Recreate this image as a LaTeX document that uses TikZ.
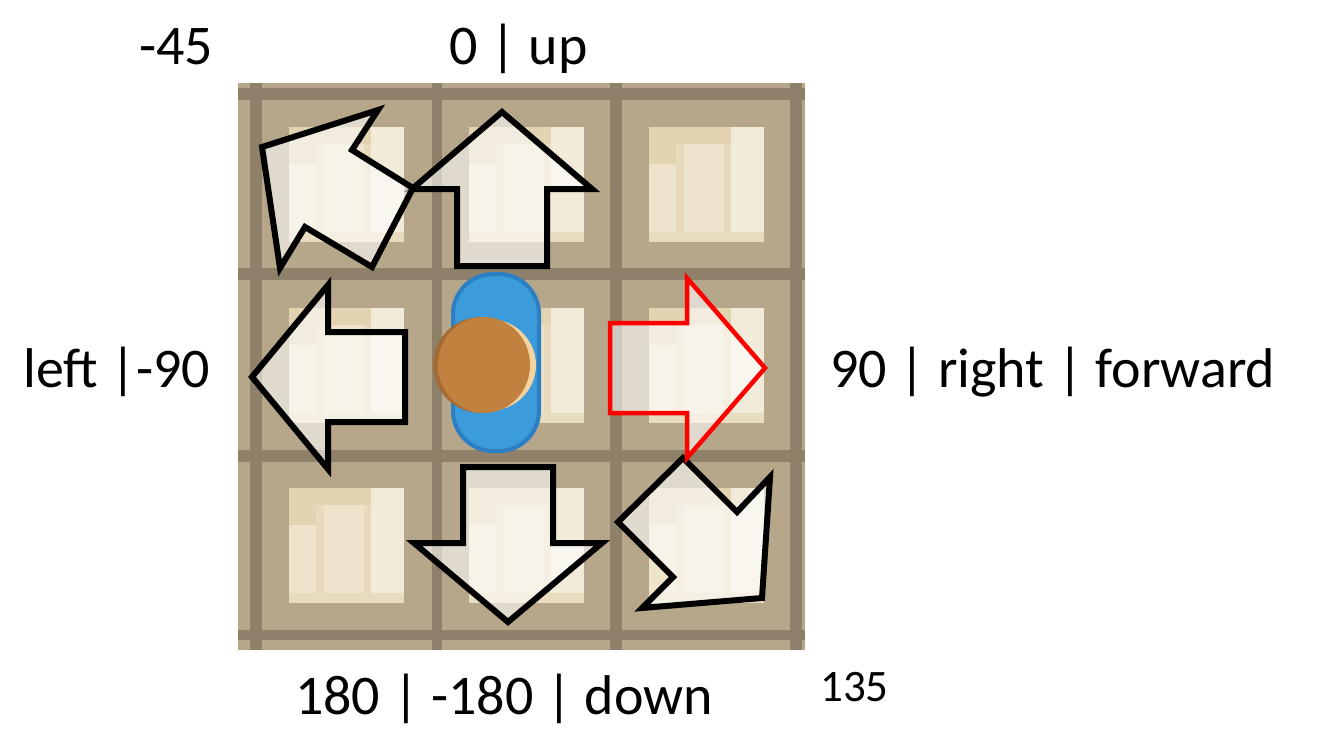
\documentclass[tikz,border=0pt]{standalone}
\usepackage{fontspec}
\setmainfont{Carlito}
\definecolor{tanbg}{HTML}{B6A78B}
\definecolor{tanline}{HTML}{8E8069}
\definecolor{creamA}{HTML}{EEE4CC}
\definecolor{creamB}{HTML}{E2D3B1}
\definecolor{creamC}{HTML}{F2EBD9}
\definecolor{blueA}{HTML}{3C9BDA}
\definecolor{blueB}{HTML}{2C7FC2}
\definecolor{brownA}{HTML}{C1823F}
\definecolor{brownB}{HTML}{A36C37}
\definecolor{brownHi}{HTML}{F3D3A0}
\tikzset{
  arrowshape/.style={draw=black, line width=6, line join=miter, miter limit=10, fill=white, fill opacity=0.58},
  redarrow/.style={arrowshape, draw=red, line width=4.5},
  lbl/.style={inner sep=0, font=\fontsize{56}{62}\selectfont},
  smalllbl/.style={inner sep=0, font=\fontsize{45}{50}\selectfont},
}
\newcommand{\shelf}[2]{%
  \begin{scope}[shift={(#1,#2)}]
    \fill[creamA] (-57.5,-57.5) rectangle (57.5,57.5);
    \fill[creamC] (25,-57.5) rectangle (57.5,57.5);
    \fill[creamB] (-57.5,-57.5) rectangle (25,-40);
    \fill[creamB] (-57.5,-57.5) rectangle (-30,-20);
    \fill[creamB!60!creamA] (-30,-40) rectangle (-22,57.5);
    \fill[creamB!60!creamA] (18,-40) rectangle (25,57.5);
    \fill[creamB!50!creamA] (-57.5,48) rectangle (57.5,57.5);
  \end{scope}}
\begin{document}
\begin{tikzpicture}[x=1pt,y=-1pt]
\useasboundingbox (0,0) rectangle (1317,747);
\fill[white] (0,0) rectangle (1317,747);
% floor
\fill[tanbg] (238,83) rectangle (805,650);
\foreach \a/\b in {250/262,432/442,610/622,790/802}
  \fill[tanline] (\a,83) rectangle (\b,650);
\foreach \a/\b in {88/100,268/280,450/462,630/640}
  \fill[tanline] (238,\a) rectangle (805,\b);
\foreach \cx in {346,526,706}
  \foreach \cy in {184,365,545}
    \shelf{\cx}{\cy};
% character
\filldraw[fill=blueA, draw=blueB, line width=4, rounded corners=40] (453,274) rectangle (539,451);
\fill[brownB] (481,365) ellipse [x radius=48, y radius=48];
\fill[brownHi] (489,365) ellipse [x radius=47, y radius=46];
\fill[brownA] (484,365) ellipse [x radius=46, y radius=48];
% arrows
\draw[arrowshape] (502,112) coordinate (upTip) -- (592,189) -- (547,189) -- (547,266) -- (457,266) -- (457,189) -- (412,189) -- cycle;
\draw[arrowshape] (508,622) coordinate (downTip) -- (602,543) -- (553,543) -- (553,467) -- (463,467) -- (463,543) -- (414,543) -- cycle;
\draw[arrowshape] (252,377) coordinate (leftTip) -- (328,285) -- (328,332) -- (405,332) -- (405,422) -- (328,422) -- (328,469) -- cycle;
\draw[arrowshape] (262,147) coordinate (ulTip) -- (378,110) -- (352,150) -- (413,188) -- (372,267) -- (305,227) -- (280,268) -- cycle;
\draw[arrowshape] (762,598) coordinate (lrTip) -- (642,608) -- (673,577) -- (618,522) -- (683,458) -- (737,512) -- (770,477) -- cycle;
\draw[redarrow] (765,368) coordinate (rightTip) -- (687,458) -- (687,413) -- (610,413) -- (610,323) -- (687,323) -- (687,278) -- cycle;
% labels
\node[lbl, anchor=base west] (lm45) at (139,64) {-45};
\node[lbl, anchor=base west] (lup) at (449,64) {0 | up};
\node[lbl, anchor=base west] (lleft) at (23,387) {left |-90};
\node[lbl, anchor=base west] (lright) at (830,387) {90 | right | forward};
\node[lbl, anchor=base west] (ldown) at (295,714) {180 | -180 | down};
\node[smalllbl, anchor=base west] (l135) at (820,701) {135};
\end{tikzpicture}
\end{document}
